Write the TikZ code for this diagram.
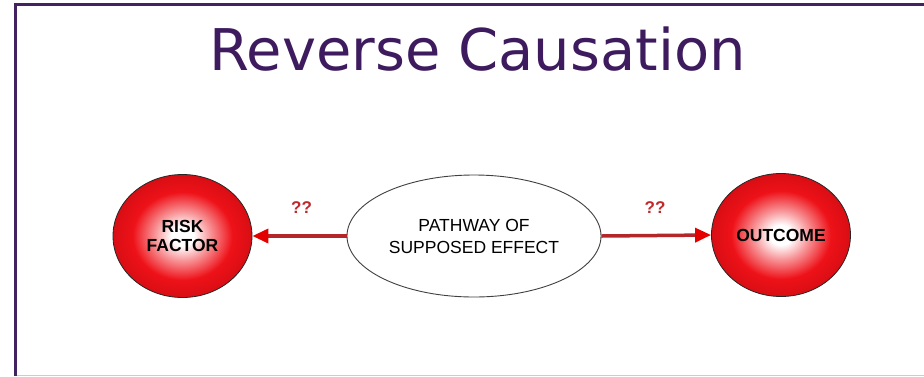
\documentclass[tikz,border=0pt]{standalone}
\usepackage{fontspec}
\setmainfont{Liberation Sans}
\newfontfamily\titlefont{DejaVu Sans}
\usetikzlibrary{shapes.geometric,arrows.meta}
\definecolor{titlepurple}{HTML}{3E1A5E}
\definecolor{framepurple}{HTML}{43235F}
\definecolor{ballred}{HTML}{EE1118}
\definecolor{balledge}{HTML}{D80E14}
\definecolor{arrowred}{HTML}{B3262A}
\definecolor{qred}{HTML}{C0282C}
\pgfdeclareradialshading{ballshade}{\pgfpoint{0bp}{0bp}}{%
  color(0bp)=(white); color(4bp)=(white); color(10bp)=(ballred!45!white);
  color(18bp)=(ballred); color(25bp)=(balledge); color(50bp)=(balledge)}
\tikzset{
  ball/.style={ellipse, draw=black!85, line width=0.8pt, shading=ballshade,
    minimum width=139pt, minimum height=123pt,
    inner sep=0pt, font=\fontsize{17.5}{19}\selectfont\bfseries, align=center},
  pathway/.style={ellipse, draw=black!75, line width=0.9pt, fill=white,
    minimum width=254pt, minimum height=122pt, inner sep=0pt,
    font=\fontsize{17.5}{22}\selectfont, align=center},
  causearrow/.style={draw=arrowred, line width=3.5pt,
    -{Triangle[length=16pt,width=14pt,fill=red!90!black,color=red!90!black]}},
  qmark/.style={text=qred, font=\fontsize{17}{17}\selectfont\bfseries, inner sep=0pt}
}
\begin{document}
\begin{tikzpicture}[x=1pt,y=-1pt]
\useasboundingbox (0,0) rectangle (924,376);
\fill[white] (0,0) rectangle (924,376);
% frame
\draw[framepurple, line width=3pt] (15.5,376) -- (15.5,4.5) -- (924,4.5);
\draw[black!20, line width=1pt] (17,375.5) -- (924,375.5);
% title
\node[anchor=base, text=titlepurple, inner sep=0pt,
  font=\titlefont\fontsize{57.5}{60}\selectfont] (title) at (477.5,70) {Reverse Causation};
% nodes
\node[ball] (risk) at (182.5,236) {RISK\\FACTOR};
\node[ball] (outcome) at (781,235) {OUTCOME};
\node[pathway] (path) at (474,236) {PATHWAY OF\\SUPPOSED EFFECT};
% arrows
\draw[causearrow] (path.west) -- (risk.east);
\draw[causearrow] (path.east) -- (outcome.west);
% labels
\node[qmark] (q1) at (301.5,208) {??};
\node[qmark] (q2) at (655,208) {??};
\end{tikzpicture}
\end{document}
